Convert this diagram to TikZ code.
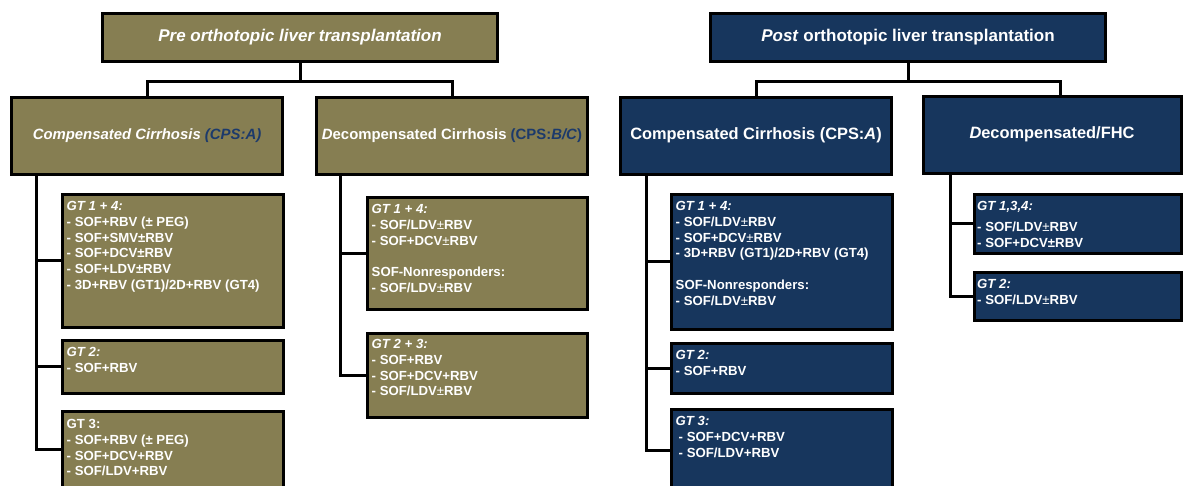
\documentclass[tikz,border=0pt]{standalone}
\usepackage{fontspec}
\setmainfont{Liberation Sans}
\usetikzlibrary{calc}

\definecolor{preolive}{HTML}{867E52}
\definecolor{postnavy}{HTML}{17365D}
\definecolor{cpsblue}{HTML}{1C3A6B}

% lighter plus-minus sign used in some regimen lines
\newcommand\lpm{{\mdseries ±}}

\tikzset{
  box/.style={rectangle, draw=black, line width=3pt, inner sep=0pt},
  prebox/.style={box, fill=preolive},
  postbox/.style={box, fill=postnavy},
  conn/.style={draw=black, line width=3pt},
  toptext/.style={text=white, font=\fontsize{17}{20}\selectfont\bfseries},
  pretext/.style={text=white, font=\fontsize{14.9}{18}\selectfont\bfseries},
  posttext/.style={text=white, font=\fontsize{16.4}{19}\selectfont\bfseries},
  body/.style={anchor=north west, inner sep=0pt, align=left, text=white,
    font=\fontsize{13.2}{15.8}\selectfont\bfseries},
}

\begin{document}
\begin{tikzpicture}[x=1pt, y=-1pt]
\useasboundingbox (0,0) rectangle (1184,485);
\clip (0,0) rectangle (1184,485);
\fill[white] (0,0) rectangle (1184,485);

% ---------- pre transplantation tree ----------
\node[prebox, minimum width=394.5pt, minimum height=48pt, toptext] (pre) at (300,37)
  {\itshape Pre orthotopic liver transplantation};
\node[prebox, minimum width=271.5pt, minimum height=77pt, pretext] (comp) at (147,135.5)
  {\itshape Compensated Cirrhosis \textcolor{cpsblue}{(CPS:A)}};
\node[prebox, minimum width=271.5pt, minimum height=77pt, pretext] (dec) at (452,135.5)
  {\textit{D}ecompensated Cirrhosis \textcolor{cpsblue}{(CPS:\textit{B/C})}};

\node[prebox, minimum width=221pt, minimum height=133pt] (l1) at (172.5,260.5) {};
\node[prebox, minimum width=221pt, minimum height=53pt]  (l2) at (172.5,366.5) {};
\node[prebox, minimum width=221pt, minimum height=77pt]  (l3) at (172.5,449.5) {};
\node[prebox, minimum width=220.5pt, minimum height=112pt] (d1) at (477.25,253) {};
\node[prebox, minimum width=220.5pt, minimum height=84pt]  (d2) at (477.25,375) {};

\node[body] (l1t) at ([shift={(6,8.5)}]l1.north west)
  {\textit{GT 1 + 4:}\\ - SOF+RBV (± PEG)\\ - SOF+SMV±RBV\\ - SOF+DCV±RBV\\
   - SOF+LDV±RBV\\ - 3D+RBV (GT1)/2D+RBV (GT4)};
\node[body] (l2t) at ([shift={(6,8.5)}]l2.north west)
  {\textit{GT 2:}\\ - SOF+RBV};
\node[body] (l3t) at ([shift={(6,9.5)}]l3.north west)
  {GT 3:\\ - SOF+RBV (± PEG)\\ - SOF+DCV+RBV\\ - SOF/LDV+RBV};
\node[body] (d1t) at ([shift={(6,8.5)}]d1.north west)
  {\textit{GT 1 + 4:}\\ - SOF/LDV\lpm RBV\\ - SOF+DCV\lpm RBV\\[15.8pt]
   SOF-Nonresponders:\\ - SOF/LDV\lpm RBV};
\node[body] (d2t) at ([shift={(6,7.5)}]d2.north west)
  {\textit{GT 2 + 3:}\\ - SOF+RBV\\ - SOF+DCV+RBV\\ - SOF/LDV\lpm RBV};

\draw[conn] (pre.south) -- ($(pre.south)+(0,19)$) -| (comp.north);
\draw[conn] (pre.south) -- ($(pre.south)+(0,19)$) -| (dec.north);
\coordinate (lbus) at ([xshift=26.5pt]comp.south west);
\draw[conn] (lbus) |- (l1.west);
\draw[conn] (lbus) |- (l2.west);
\draw[conn] (lbus) |- (l3.west);
\coordinate (dbus) at ([xshift=26pt]dec.south west);
\draw[conn] (dbus) |- (d1.west);
\draw[conn] (dbus) |- (d2.west);

% ---------- post transplantation tree ----------
\node[postbox, minimum width=394.5pt, minimum height=48pt, toptext] (post) at (908,37)
  {\textit{Post} orthotopic liver transplantation};
\node[postbox, minimum width=271.5pt, minimum height=77pt, posttext] (pcomp) at (756,135.5)
  {Compensated Cirrhosis (CPS:\textit{A})};
\node[postbox, minimum width=258pt, minimum height=77pt, posttext] (fhc) at (1052,134.5)
  {\textit{D}ecompensated/FHC};

\node[postbox, minimum width=221pt, minimum height=135pt] (p1) at (781.5,261.5) {};
\node[postbox, minimum width=221pt, minimum height=50pt]  (p2) at (781.5,368) {};
\node[postbox, minimum width=221pt, minimum height=83pt]  (p3) at (781.5,450.5) {};
\node[postbox, minimum width=207pt, minimum height=59pt]  (f1) at (1077.5,223.5) {};
\node[postbox, minimum width=207pt, minimum height=48pt]  (f2) at (1077.5,296) {};

\node[body] (p1t) at ([shift={(6,8.5)}]p1.north west)
  {\textit{GT 1 + 4:}\\ - SOF/LDV\lpm RBV\\ - SOF+DCV\lpm RBV\\
   - 3D+RBV (GT1)/2D+RBV (GT4)\\[15.8pt]
   SOF-Nonresponders:\\ - SOF/LDV\lpm RBV};
\node[body] (p2t) at ([shift={(6,9)}]p2.north west)
  {\textit{GT 2:}\\ - SOF+RBV};
\node[body] (p3t) at ([shift={(6,9)}]p3.north west)
  {\textit{GT 3:}\\ \hspace*{3pt}- SOF+DCV+RBV\\ \hspace*{3pt}- SOF/LDV+RBV};
\node[body] (f1t) at ([shift={(4.5,8.5)}]f1.north west)
  {\textit{GT 1,3,4:}\\[5.5pt] - SOF/LDV\lpm RBV\\ - SOF+DCV±RBV};
\node[body] (f2t) at ([shift={(4.5,8.5)}]f2.north west)
  {\textit{GT 2:}\\ - SOF/LDV\lpm RBV};

\draw[conn] (post.south) -- ($(post.south)+(0,19)$) -| (pcomp.north);
\draw[conn] (post.south) -- ($(post.south)+(0,19)$) -| ([xshift=8pt]fhc.north);
\coordinate (pbus) at ([xshift=27.5pt]pcomp.south west);
\draw[conn] (pbus) |- (p1.west);
\draw[conn] (pbus) |- (p2.west);
\draw[conn] (pbus) |- (p3.west);
\coordinate (fbus) at ([xshift=29pt]fhc.south west);
\draw[conn] (fbus) |- (f1.west);
\draw[conn] (fbus) |- (f2.west);
\end{tikzpicture}
\end{document}
